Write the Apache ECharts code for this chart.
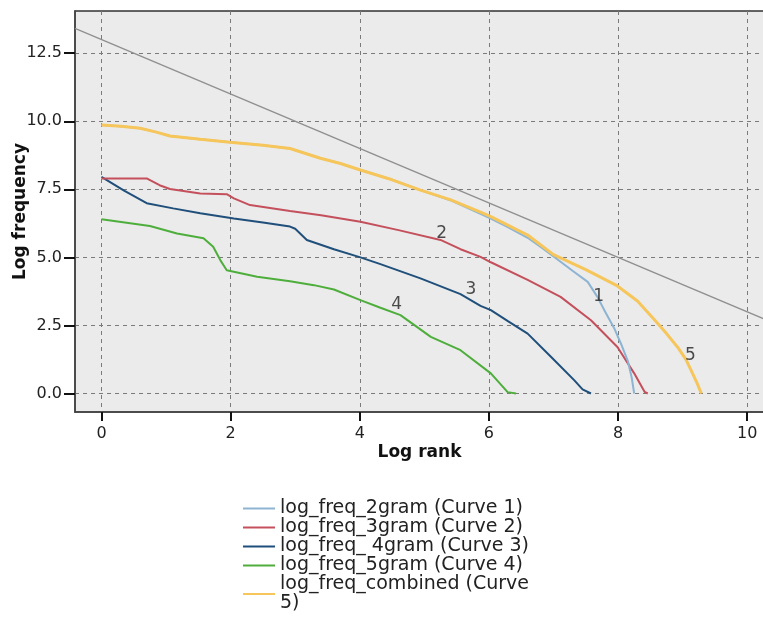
<!DOCTYPE html>
<html>
<head>
<meta charset="utf-8">
<script src="https://cdn.jsdelivr.net/npm/echarts@6/dist/echarts.min.js"></script>
<style>
html,body{margin:0;padding:0;background:#fff;}
#chart{width:763px;height:627px;}
</style>
</head>
<body>
<div id="chart"></div>
<script>
// ---- data ----
const xTicks = [0, 2, 4, 6, 8, 10];
const yTicks = [0, 2.5, 5, 7.5, 10, 12.5];

const curveNames = [
  'log_freq_2gram (Curve 1)',
  'log_freq_3gram (Curve 2)',
  'log_freq_ 4gram (Curve 3)',
  'log_freq_5gram (Curve 4)',
  'log_freq_combined (Curve 5)'
];

const curve1 = [[0,9.86],[0.3,9.82],[0.6,9.74],[0.85,9.6],[1.06,9.46],[1.53,9.34],[1.99,9.23],[2.5,9.12],[2.92,9.0],[3.39,8.64],[3.7,8.45],[4.01,8.21],[4.5,7.85],[4.94,7.47],[5.4,7.1],[5.87,6.6],[6.03,6.42],[6.3,6.1],[6.6,5.72],[6.85,5.3],[7.11,4.84],[7.3,4.5],[7.53,4.1],[7.68,3.55],[7.8,3.0],[7.94,2.4],[8.05,1.8],[8.15,1.2],[8.21,0.6],[8.25,0]];
const curve2 = [[0,7.9],[0.7,7.9],[0.9,7.65],[1.06,7.51],[1.53,7.35],[1.94,7.32],[2.05,7.17],[2.3,6.92],[2.92,6.7],[3.4,6.55],[4.01,6.31],[4.6,6.0],[5.25,5.64],[5.56,5.3],[5.87,5.02],[6.03,4.82],[6.6,4.17],[7.11,3.55],[7.58,2.69],[7.99,1.71],[8.25,0.74],[8.41,0.06],[8.46,0]];
const curve3 = [[0,7.96],[0.35,7.45],[0.7,6.99],[1.11,6.8],[1.53,6.62],[2.05,6.43],[2.5,6.28],[2.92,6.13],[3.0,6.05],[3.18,5.64],[3.6,5.3],[4.01,5.0],[4.32,4.75],[4.94,4.23],[5.56,3.65],[5.87,3.22],[6.03,3.06],[6.3,2.65],[6.6,2.2],[6.96,1.35],[7.32,0.49],[7.45,0.15],[7.58,0]];
const curve4 = [[0,6.4],[0.75,6.15],[1.17,5.88],[1.58,5.7],[1.73,5.39],[1.84,4.9],[1.94,4.53],[2.41,4.29],[2.92,4.12],[3.29,3.98],[3.6,3.82],[4.01,3.43],[4.32,3.15],[4.63,2.88],[5.1,2.08],[5.56,1.59],[6.03,0.74],[6.29,0.05],[6.42,0]];
const curve5 = [[0,9.86],[0.3,9.82],[0.6,9.74],[0.85,9.6],[1.06,9.46],[1.53,9.34],[1.99,9.23],[2.5,9.12],[2.92,9.0],[3.39,8.64],[3.7,8.45],[4.01,8.21],[4.5,7.85],[4.94,7.47],[5.4,7.12],[5.87,6.66],[6.03,6.5],[6.6,5.82],[7.0,5.1],[7.5,4.55],[7.99,3.95],[8.3,3.4],[8.56,2.72],[8.75,2.2],[8.92,1.71],[9.05,1.25],[9.13,0.86],[9.22,0.4],[9.29,0]];

// reference line y = 13 - x across the visible range
const refLine = [[-0.41,13.41],[10.26,2.74]];

const curveLabelText = ['1','2','3','4','5'];
const curveLabelX = [7.7, 5.27, 5.72, 4.57, 9.12];
const curveLabelY = [3.57, 5.86, 3.8, 3.25, 1.41];

const colors = ['#8db4d2', '#c4505c', '#1f4f7a', '#4eae3c', '#f6c65b'];

// ---- chart ----
const chart = echarts.init(document.getElementById('chart'));
const font = 'DejaVu Sans';
const curves = [curve1, curve2, curve3, curve4, curve5];
const drawOrder = [3, 2, 1, 0, 4];

const series = [{
  type: 'line', name: 'ref', data: refLine, showSymbol: false, silent: true,
  lineStyle: {color: '#8f8f8f', width: 1.3}, z: 2
}];
drawOrder.forEach(i => {
  series.push({
    type: 'line', name: curveNames[i], data: curves[i], showSymbol: false,
    color: colors[i],
    lineStyle: {color: colors[i], width: i === 4 ? 3 : 2}, z: 3 + (i === 4 ? 5 : 0)
  });
});
series.push({
  type: 'scatter', name: 'labels', symbolSize: 0, silent: true, z: 20,
  data: curveLabelX.map((x, i) => ({value: [x, curveLabelY[i]], name: curveLabelText[i]})),
  label: {show: true, position: 'inside', formatter: p => p.name,
          fontFamily: font, fontSize: 17, color: '#222'}
});

chart.setOption({
  animation: false,
  backgroundColor: '#ffffff',
  grid: {left: 75, top: 11, right: -1, bottom: 215, show: true, outerBoundsMode: 'none',
         backgroundColor: '#ebebeb', borderColor: '#333', borderWidth: 1.5},
  xAxis: {
    type: 'value', min: -0.41, max: 10.26,
    name: 'Log rank', nameLocation: 'middle', nameGap: 32, nameMoveOverlap: false,
    nameTextStyle: {fontFamily: font, fontWeight: 'bold', fontSize: 17, color: '#111'},
    axisLine: {show: true, onZero: false, lineStyle: {color: '#444', width: 1.5}},
    axisTick: {show: true, customValues: xTicks, length: 9, lineStyle: {color: '#111', width: 2}},
    axisLabel: {customValues: xTicks, margin: 14, fontFamily: font, fontSize: 16, color: '#222'},
    splitLine: {show: true, lineStyle: {color: '#7a7a7a', type: [4, 4], width: 1}}
  },
  yAxis: {
    type: 'value', min: -0.68, max: 14.05,
    name: 'Log frequency', nameLocation: 'middle', nameGap: 46, nameMoveOverlap: false,
    nameTextStyle: {fontFamily: font, fontWeight: 'bold', fontSize: 17, color: '#111'},
    axisLine: {show: true, onZero: false, lineStyle: {color: '#444', width: 1.5}},
    axisTick: {show: true, customValues: yTicks, length: 11, lineStyle: {color: '#111', width: 2}},
    axisLabel: {customValues: yTicks, margin: 13, fontFamily: font, fontSize: 16, color: '#222',
                formatter: v => v.toFixed(1)},
    splitLine: {show: true, lineStyle: {color: '#7a7a7a', type: [4, 4], width: 1}}
  },
  legend: {
    orient: 'vertical', left: 243, top: 499, height: 128, padding: 0,
    data: curveNames, icon: 'rect', itemWidth: 32, itemHeight: 2, itemGap: 0,
    textStyle: {fontFamily: font, fontSize: 19, color: '#222', lineHeight: 19},
    formatter: n => n === curveNames[4] ? 'log_freq_combined (Curve\n5)' : n
  },
  series: series
});
</script>
</body>
</html>
